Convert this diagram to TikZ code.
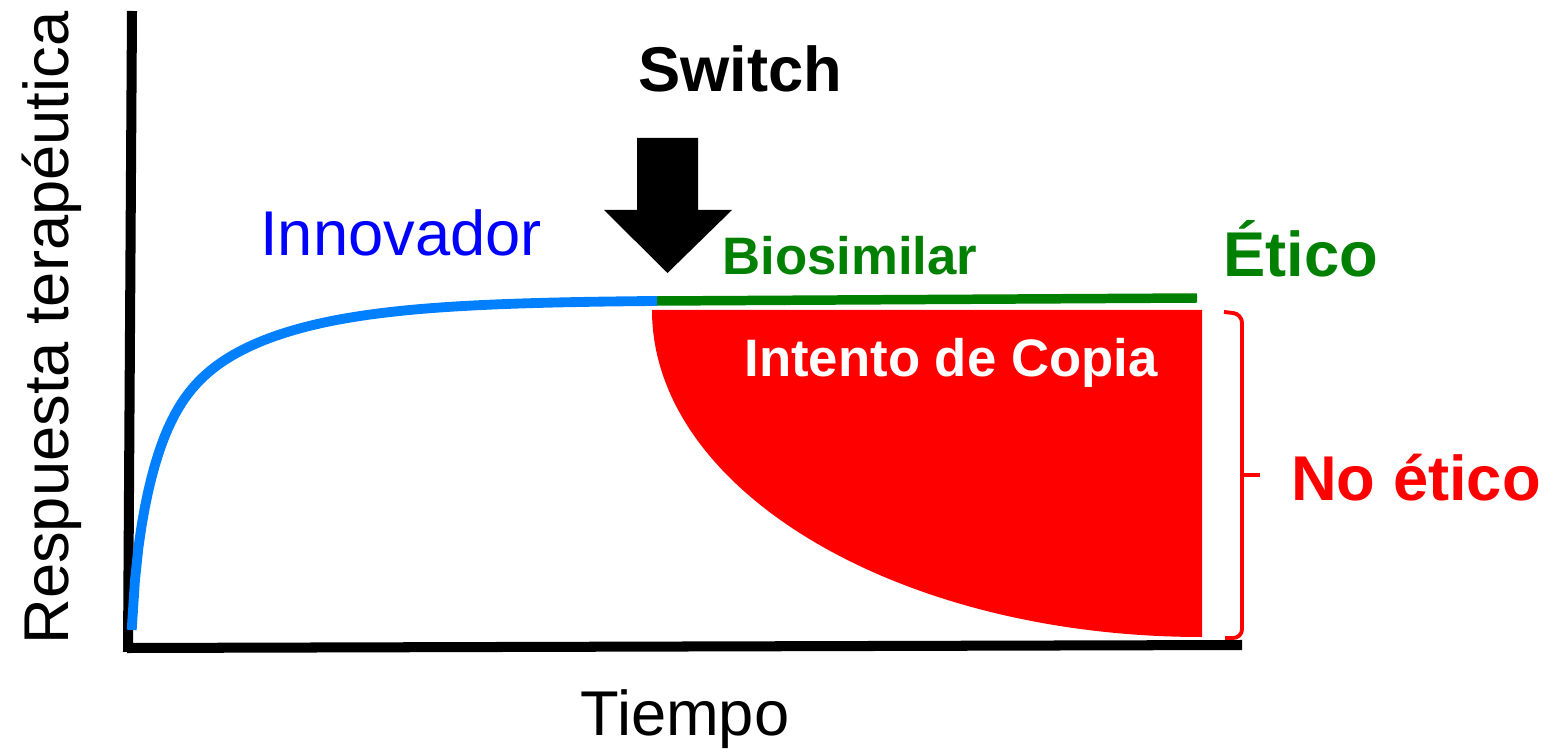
\documentclass[tikz,border=0pt]{standalone}
\usepackage{fontspec}
\setmainfont{Liberation Sans}
\definecolor{curveblue}{RGB}{0,128,255}
\definecolor{labelblue}{RGB}{0,0,255}
\definecolor{okgreen}{RGB}{0,128,0}
\definecolor{badred}{RGB}{255,0,0}
\tikzstyle{axis} = [draw,line width=2.85pt,black]
\tikzstyle{innov curve} = [draw,line width=2.8pt,curveblue]
\tikzstyle{bio line} = [draw,line width=2.7pt,okgreen]
\tikzstyle{brace line} = [draw,line width=1.1pt,badred,rounded corners=2.5pt]
\tikzstyle{label} = [inner sep=0pt,anchor=base]
\tikzstyle{big} = [font=\fontsize{18}{21}\selectfont]
\tikzstyle{bigbold} = [font=\fontsize{18}{21}\selectfont\bfseries]
\tikzstyle{mid} = [font=\fontsize{15}{18}\selectfont\bfseries]

\begin{document}
\begin{tikzpicture}
        \useasboundingbox (0,0) rectangle (15.47,7.53);
        % ejes
        \path[axis] (1.32,7.42) -- (1.28,1.01);
        \path[axis] (1.27,1.05) -- (12.42,1.08);

        % zona roja
        \fill[badred] (6.52,4.43) -- (12.02,4.43) -- (12.02,1.16) arc (270:180:5.50 and 3.27) -- cycle;

        % curvas
        \path[innov curve] plot[domain=1.317:6.57,samples=160]
            (\x,{4.53-1.40*exp(-0.95*(\x-1.317))-1.50*exp(-min(4.5*(\x-1.317),9))-0.40*exp(-min(30*(\x-1.317),9))});
        \path[bio line] (6.57,4.52) -- (11.97,4.55);

        % flecha del switch
        \fill[black] (6.37,6.15) -- (6.98,6.15) -- (6.98,5.43) -- (7.32,5.43)
            -- (6.675,4.80) -- (6.04,5.43) -- (6.37,5.43) -- cycle;

        % llave
        \path[brace line] (12.24,4.41) -- (12.42,4.39) -- (12.42,1.15) -- (12.25,1.15);
        \path[brace line] (12.42,2.78) -- (12.60,2.78);

        \node[label,bigbold] (switch) at (7.40,6.61) {Switch};
        \node[label,big,labelblue] (innov) at (4.01,4.97) {Innovador};
        \node[label,mid,okgreen] (bio) at (8.50,4.78) {Biosimilar};
        \node[label,bigbold,okgreen] (etico) at (13.01,4.76) {Ético};
        \node[label,mid,white] (copia) at (9.51,3.76) {Intento de Copia};
        \node[label,bigbold,badred] (noetico) at (14.16,2.53) {No ético};
        \node[label,big] (tiempo) at (6.85,0.18) {Tiempo};
        \node[label,big,rotate=90] (resp) at (0.68,4.25) {Respuesta terapéutica};
    \end{tikzpicture}
\end{document}
